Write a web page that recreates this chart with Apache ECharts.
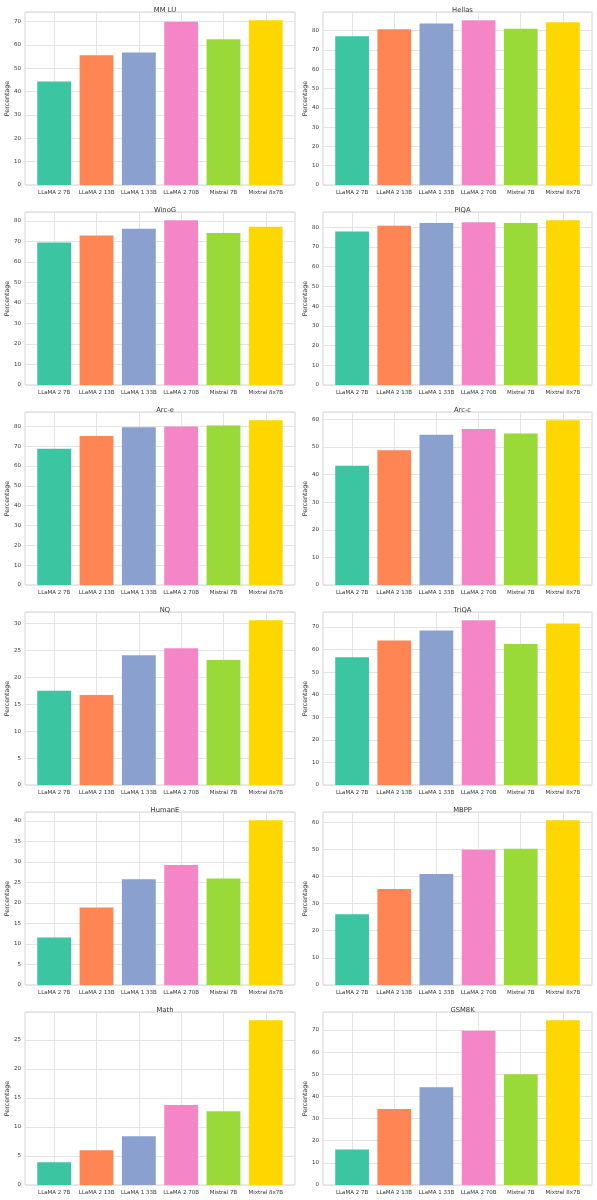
<!DOCTYPE html>
<html>
<head>
<meta charset="utf-8">
<script src="https://cdn.jsdelivr.net/npm/echarts@6/dist/echarts.min.js"></script>
<style>
  html, body { margin: 0; padding: 0; background: #fff; }
  #main { width: 597px; height: 1200px; }
</style>
</head>
<body>
<div id="main"></div>
<script>
const models = ['LLaMA 2 7B', 'LLaMA 2 13B', 'LLaMA 1 33B', 'LLaMA 2 70B', 'Mistral 7B', 'Mixtral 8x7B'];
const barColors = ['#3cc5a1', '#ff8555', '#8aa0cf', '#f486c8', '#9ada38', '#ffd700'];

const titles = ['MM LU', 'Hellas', 'WinoG', 'PIQA', 'Arc-e', 'Arc-c', 'NQ', 'TriQA', 'HumanE', 'MBPP', 'Math', 'GSM8K'];
const tickSteps = [10, 10, 10, 10, 10, 10, 5, 10, 5, 10, 5, 10];

const mmlu   = [44.4, 55.6, 56.8, 69.9, 62.5, 70.6];
const hellas = [77.1, 80.7, 83.7, 85.4, 81.0, 84.4];
const winog  = [69.5, 72.9, 76.2, 80.4, 74.2, 77.2];
const piqa   = [77.9, 80.8, 82.2, 82.6, 82.2, 83.6];
const arce   = [68.7, 75.2, 79.6, 79.9, 80.5, 83.1];
const arcc   = [43.2, 48.8, 54.4, 56.5, 54.9, 59.7];
const nq     = [17.5, 16.7, 24.1, 25.4, 23.2, 30.6];
const triqa  = [56.6, 64.0, 68.5, 73.0, 62.5, 71.5];
const humane = [11.6, 18.9, 25.8, 29.3, 26.0, 40.2];
const mbpp   = [26.1, 35.4, 40.9, 49.8, 50.2, 60.7];
const mathScores = [3.9, 6.0, 8.4, 13.8, 12.7, 28.4];
const gsm8k  = [16.0, 34.3, 44.1, 69.6, 50.0, 74.4];

const panels = [mmlu, hellas, winog, piqa, arce, arcc, nq, triqa, humane, mbpp, mathScores, gsm8k];

const txt = '#333333';
const gridCol = '#e4e4e4';
const font = 'DejaVu Sans';

const buildOption = () => {
  var grid = [], xAxis = [], yAxis = [], series = [], title = [];

  for (var i = 0; i < panels.length; i++) {
    var row = Math.floor(i / 2), col = i % 2;
    var gLeft = col ? 323 : 25;
    var gWidth = col ? 269 : 270;
    var gTop = 12 + 200 * row;
    var gHeight = 173;
    // matplotlib style x range: bars of 0.8 plus 5% margins
    var unit = gWidth / 6.38;
    var inset = 0.19 * unit;
    var step = tickSteps[i];
    var ymax = Math.max.apply(null, panels[i]) * 1.05;

    // outer grid: border, y grid lines, y labels
    grid.push({ left: gLeft, top: gTop, width: gWidth, height: gHeight, show: true,
      borderColor: '#d4d4d4', borderWidth: 1, backgroundColor: 'transparent' });
    // inner grid: bars + category labels
    grid.push({ left: gLeft + inset, top: gTop, width: unit * 6, height: gHeight, show: false });

    xAxis.push({ type: 'value', gridIndex: 2 * i, min: 0, max: 1, show: false });
    xAxis.push({
      type: 'category', gridIndex: 2 * i + 1, data: models,
      axisLine: { show: false },
      axisTick: { show: true, alignWithLabel: true, inside: true, length: gHeight,
        lineStyle: { color: gridCol, width: 1 } },
      axisLabel: { interval: 0, fontSize: 5.5, color: txt, fontFamily: font, margin: 5 },
      splitLine: { show: false }
    });

    yAxis.push({
      type: 'value', gridIndex: 2 * i, min: 0, max: ymax, interval: step,
      name: 'Percentage', nameLocation: 'middle', nameGap: 15,
      nameTextStyle: { fontSize: 6.3, color: txt, fontFamily: font },
      axisLine: { show: false }, axisTick: { show: false },
      axisLabel: { fontSize: 5.5, color: txt, fontFamily: font, margin: 4,
        formatter: (function (s) { return function (v) { return Math.abs(v % s) < 1e-6 ? String(v) : ''; }; })(step) },
      splitLine: { show: true, lineStyle: { color: gridCol, width: 1 } }
    });
    yAxis.push({ type: 'value', gridIndex: 2 * i + 1, min: 0, max: ymax, show: false, splitLine: { show: false } });

    series.push({
      type: 'bar', xAxisIndex: 2 * i + 1, yAxisIndex: 2 * i + 1,
      barWidth: unit * 0.8,
      data: panels[i].map(function (v, j) { return { value: v, itemStyle: { color: barColors[j] } }; })
    });

    title.push({
      text: titles[i], left: gLeft + gWidth / 2, top: gTop - 10, textAlign: 'center',
      textStyle: { fontSize: 6.8, fontWeight: 'normal', color: txt, fontFamily: font }
    });
  }

  return {
    animation: false,
    backgroundColor: '#ffffff',
    title: title,
    grid: grid,
    xAxis: xAxis,
    yAxis: yAxis,
    series: series
  };
};

var myChart = echarts.init(document.getElementById('main'), null, { renderer: 'canvas' });
myChart.setOption(buildOption());
</script>
</body>
</html>
